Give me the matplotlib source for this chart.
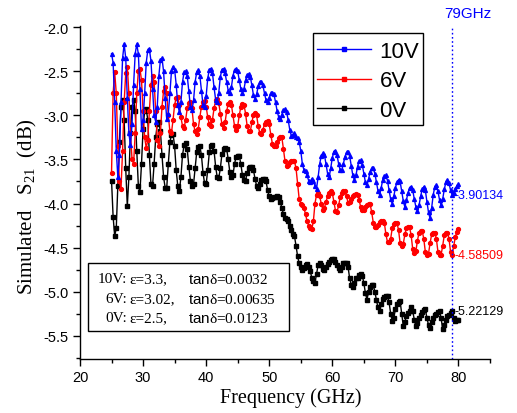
import numpy as np
import matplotlib
matplotlib.use("Agg")
import matplotlib.pyplot as plt
from matplotlib.patches import Rectangle

plt.rcParams["font.family"] = ["Liberation Sans", "DejaVu Sans"]
plt.rcParams["axes.unicode_minus"] = False
plt.rcParams["mathtext.fontset"] = "custom"
plt.rcParams["mathtext.rm"] = "Liberation Serif"
plt.rcParams["mathtext.it"] = "Liberation Serif:italic"
plt.rcParams["mathtext.sf"] = "Liberation Sans"

# Frequency sweep, 25-80 GHz in 0.25 GHz steps
freq = np.arange(25.0, 80.001, 0.25)

# Simulated S21 (dB); each row covers one GHz (x.00, x.25, x.50, x.75)
s21_10v = [
    -2.30, -2.40, -2.85, -3.40,   # 25
    -3.70, -3.45, -2.85, -2.35,   # 26
    -2.19, -2.35, -2.80, -3.20,   # 27
    -3.34, -3.10, -2.65, -2.30,   # 28
    -2.19, -2.30, -2.70, -3.15,   # 29
    -3.05, -2.75, -2.40, -2.26,   # 30
    -2.25, -2.38, -2.70, -3.00,   # 31
    -3.07, -2.90, -2.55, -2.37,   # 32
    -2.35, -2.50, -2.80, -3.04,   # 33
    -2.98, -2.75, -2.50, -2.45,   # 34
    -2.48, -2.65, -2.88, -2.96,   # 35
    -2.85, -2.62, -2.51, -2.50,   # 36
    -2.55, -2.72, -2.90, -2.94,   # 37
    -2.83, -2.62, -2.51, -2.49,   # 38
    -2.55, -2.72, -2.88, -2.90,   # 39
    -2.78, -2.58, -2.48, -2.47,   # 40
    -2.52, -2.68, -2.82, -2.85,   # 41
    -2.74, -2.56, -2.48, -2.47,   # 42
    -2.52, -2.62, -2.72, -2.74,   # 43
    -2.68, -2.55, -2.48, -2.47,   # 44
    -2.50, -2.60, -2.70, -2.74,   # 45
    -2.70, -2.60, -2.54, -2.53,   # 46
    -2.56, -2.66, -2.77, -2.81,   # 47
    -2.76, -2.67, -2.62, -2.62,   # 48
    -2.66, -2.75, -2.83, -2.85,   # 49
    -2.80, -2.75, -2.74, -2.76,   # 50
    -2.85, -2.95, -3.02, -3.04,   # 51
    -2.99, -2.94, -2.93, -2.96,   # 52
    -3.05, -3.16, -3.23, -3.22,   # 53
    -3.20, -3.24, -3.26, -3.30,   # 54
    -3.40, -3.55, -3.62, -3.63,   # 55
    -3.68, -3.74, -3.76, -3.72,   # 56
    -3.75, -3.80, -3.83, -3.70,   # 57
    -3.55, -3.46, -3.43, -3.45,   # 58
    -3.55, -3.66, -3.70, -3.60,   # 59
    -3.48, -3.41, -3.40, -3.45,   # 60
    -3.55, -3.62, -3.62, -3.55,   # 61
    -3.47, -3.42, -3.41, -3.46,   # 62
    -3.57, -3.68, -3.73, -3.68,   # 63
    -3.58, -3.52, -3.51, -3.56,   # 64
    -3.66, -3.76, -3.79, -3.72,   # 65
    -3.64, -3.60, -3.60, -3.66,   # 66
    -3.76, -3.86, -3.90, -3.82,   # 67
    -3.73, -3.69, -3.68, -3.74,   # 68
    -3.85, -3.95, -4.00, -3.92,   # 69
    -3.82, -3.76, -3.73, -3.75,   # 70
    -3.86, -3.97, -4.04, -3.96,   # 71
    -3.88, -3.82, -3.81, -3.85,   # 72
    -3.95, -4.04, -4.09, -4.02,   # 73
    -3.92, -3.84, -3.81, -3.85,   # 74
    -3.98, -4.10, -4.17, -4.05,   # 75
    -3.90, -3.81, -3.79, -3.86,   # 76
    -3.96, -4.02, -3.95, -3.84,   # 77
    -3.76, -3.73, -3.77, -3.85,   # 78
    -3.90134, -3.88, -3.83, -3.80,  # 79
    -3.78,                        # 80
]

s21_6v = [
    -3.65, -2.75, -2.51, -2.75,   # 25
    -3.35, -3.75, -3.83, -3.40,   # 26
    -2.85, -2.52, -2.45, -2.75,   # 27
    -3.20, -3.50, -3.55, -3.20,   # 28
    -2.75, -2.50, -2.47, -2.60,   # 29
    -2.95, -3.25, -3.37, -3.28,   # 30
    -2.95, -2.65, -2.55, -2.62,   # 31
    -2.95, -3.28, -3.35, -3.20,   # 32
    -2.90, -2.72, -2.68, -2.75,   # 33
    -3.00, -3.18, -3.20, -3.05,   # 34
    -2.88, -2.80, -2.79, -2.88,   # 35
    -3.02, -3.12, -3.14, -3.05,   # 36
    -2.92, -2.86, -2.85, -2.92,   # 37
    -3.10, -3.18, -3.21, -3.15,   # 38
    -3.02, -2.90, -2.85, -2.84,   # 39
    -2.90, -3.02, -3.10, -3.12,   # 40
    -3.05, -2.92, -2.83, -2.81,   # 41
    -2.86, -2.98, -3.10, -3.14,   # 42
    -3.08, -2.95, -2.87, -2.85,   # 43
    -2.88, -3.00, -3.12, -3.16,   # 44
    -3.12, -3.00, -2.90, -2.87,   # 45
    -2.88, -2.98, -3.12, -3.18,   # 46
    -3.18, -3.08, -2.99, -2.97,   # 47
    -3.00, -3.12, -3.20, -3.21,   # 48
    -3.16, -3.10, -3.07, -3.06,   # 49
    -3.10, -3.22, -3.32, -3.35,   # 50
    -3.35, -3.30, -3.26, -3.25,   # 51
    -3.25, -3.38, -3.52, -3.57,   # 52
    -3.56, -3.53, -3.52, -3.52,   # 53
    -3.52, -3.60, -3.78, -3.95,   # 54
    -4.00, -4.02, -4.05, -4.12,   # 55
    -4.20, -4.25, -4.28, -4.29,   # 56
    -4.20, -4.00, -3.90, -3.88,   # 57
    -3.92, -4.00, -4.07, -4.05,   # 58
    -3.98, -3.92, -3.88, -3.86,   # 59
    -3.88, -3.98, -4.08, -4.10,   # 60
    -4.02, -3.93, -3.88, -3.86,   # 61
    -3.86, -3.92, -3.99, -3.98,   # 62
    -3.95, -3.92, -3.90, -3.89,   # 63
    -3.90, -3.96, -4.04, -4.07,   # 64
    -4.07, -4.04, -4.02, -4.01,   # 65
    -4.01, -4.10, -4.22, -4.27,   # 66
    -4.27, -4.24, -4.21, -4.20,   # 67
    -4.20, -4.22, -4.35, -4.44,   # 68
    -4.44, -4.40, -4.28, -4.23,   # 69
    -4.22, -4.22, -4.30, -4.45,   # 70
    -4.48, -4.46, -4.35, -4.28,   # 71
    -4.27, -4.27, -4.36, -4.52,   # 72
    -4.56, -4.54, -4.42, -4.33,   # 73
    -4.31, -4.31, -4.40, -4.55,   # 74
    -4.58, -4.57, -4.45, -4.35,   # 75
    -4.33, -4.33, -4.40, -4.55,   # 76
    -4.58, -4.58, -4.48, -4.36,   # 77
    -4.33, -4.33, -4.40, -4.55,   # 78
    -4.58509, -4.48, -4.38, -4.32,  # 79
    -4.29,                        # 80
]

s21_0v = [
    -3.74, -4.15, -4.37, -4.28,   # 25
    -3.80, -3.30, -2.90, -2.82,   # 26
    -3.05, -3.60, -4.03, -3.70,   # 27
    -3.20, -2.90, -2.82, -2.95,   # 28
    -3.40, -3.80, -3.87, -3.55,   # 29
    -3.15, -2.95, -2.93, -3.05,   # 30
    -3.45, -3.78, -3.80, -3.55,   # 31
    -3.25, -3.10, -3.08, -3.18,   # 32
    -3.45, -3.70, -3.82, -3.82,   # 33
    -3.55, -3.30, -3.22, -3.21,   # 34
    -3.35, -3.62, -3.80, -3.86,   # 35
    -3.70, -3.45, -3.34, -3.31,   # 36
    -3.38, -3.58, -3.74, -3.80,   # 37
    -3.78, -3.60, -3.42, -3.36,   # 38
    -3.35, -3.45, -3.65, -3.77,   # 39
    -3.78, -3.62, -3.42, -3.35,   # 40
    -3.34, -3.40, -3.58, -3.70,   # 41
    -3.71, -3.60, -3.44, -3.38,   # 42
    -3.37, -3.38, -3.50, -3.64,   # 43
    -3.70, -3.68, -3.55, -3.47,   # 44
    -3.46, -3.46, -3.55, -3.68,   # 45
    -3.73, -3.74, -3.65, -3.60,   # 46
    -3.59, -3.59, -3.62, -3.72,   # 47
    -3.80, -3.82, -3.78, -3.73,   # 48
    -3.72, -3.72, -3.75, -3.85,   # 49
    -3.92, -3.95, -3.94, -3.93,   # 50
    -3.93, -3.92, -3.93, -3.98,   # 51
    -4.05, -4.12, -4.17, -4.18,   # 52
    -4.20, -4.25, -4.30, -4.35,   # 53
    -4.37, -4.48, -4.60, -4.68,   # 54
    -4.72, -4.75, -4.73, -4.70,   # 55
    -4.69, -4.72, -4.77, -4.84,   # 56
    -4.88, -4.90, -4.80, -4.70,   # 57
    -4.67, -4.70, -4.74, -4.75,   # 58
    -4.72, -4.69, -4.66, -4.64,   # 59
    -4.63, -4.63, -4.66, -4.70,   # 60
    -4.73, -4.75, -4.72, -4.68,   # 61
    -4.68, -4.67, -4.72, -4.85,   # 62
    -4.92, -4.95, -4.90, -4.84,   # 63
    -4.84, -4.81, -4.80, -4.82,   # 64
    -4.90, -5.02, -5.09, -5.00,   # 65
    -4.95, -4.92, -4.93, -5.00,   # 66
    -5.10, -5.18, -5.22, -5.14,   # 67
    -5.08, -5.06, -5.05, -5.05,   # 68
    -5.12, -5.25, -5.33, -5.30,   # 69
    -5.20, -5.14, -5.12, -5.11,   # 70
    -5.25, -5.39, -5.34, -5.28,   # 71
    -5.24, -5.22, -5.18, -5.22,   # 72
    -5.32, -5.39, -5.36, -5.30,   # 73
    -5.26, -5.23, -5.21, -5.20,   # 74
    -5.30, -5.38, -5.41, -5.35,   # 75
    -5.30, -5.27, -5.25, -5.23,   # 76
    -5.22, -5.30, -5.43, -5.38,   # 77
    -5.32, -5.28, -5.26, -5.24,   # 78
    -5.22129, -5.30, -5.33, -5.32,  # 79
    -5.32,                        # 80
]

series_labels = ["10V", "6V", "0V"]
series_colors = ["#0000ff", "#ff0000", "#000000"]
series_markers = ["^", "o", "s"]

marker_freq = 79.0  # GHz, operating frequency marker

# Material parameters per bias voltage
param_volts = ["10V:", "6V:", "0V:"]
param_eps = ["\u03b5=3.3,", "\u03b5=3.02,", "\u03b5=2.5,"]
param_tan = ["$\\mathsf{tan}$\u03b4=0.0032", "$\\mathsf{tan}$\u03b4=0.00635",
             "$\\mathsf{tan}$\u03b4=0.0123"]

W, H = 517, 414
fig = plt.figure(figsize=(W / 100, H / 100), dpi=100)
ax = fig.add_axes([80 / W, 1 - 360 / H, 410 / W, 333 / H])

series = [s21_10v, s21_6v, s21_0v]
handles = [None] * 3
for i in (2, 1, 0):
    (ln,) = ax.plot(freq, series[i], color=series_colors[i], lw=1.0,
                    marker=series_markers[i], ms=2.8, mec=series_colors[i],
                    mfc=series_colors[i], label=series_labels[i])
    handles[i] = ln

ax.set_xlim(20, 85)
ax.set_ylim(-5.765, -1.985)
ax.set_xticks(np.arange(20, 81, 10))
ax.set_xticks(np.arange(25, 86, 10), minor=True)
ax.set_yticks(np.arange(-5.5, -1.99, 0.5))
ax.set_yticks(np.arange(-5.75, -1.99, 0.25), minor=True)
ax.yaxis.set_major_formatter(matplotlib.ticker.FormatStrFormatter("%.1f"))
for sp in ("top", "right"):
    ax.spines[sp].set_visible(False)
for sp in ("left", "bottom"):
    ax.spines[sp].set_linewidth(1.0)
ax.tick_params(which="major", direction="out", length=5, width=1.0,
               labelsize=10.5, pad=3)
ax.tick_params(which="minor", direction="out", length=3, width=1.0)

ax.set_xlabel("Frequency (GHz)", family="Liberation Serif", fontsize=14.5)
ax.xaxis.set_label_coords(0.514, -0.086)
ax.set_ylabel("Simulated   S$_{\\mathrm{21}}$  (dB)", family="Liberation Serif",
              fontsize=15)
ax.yaxis.set_label_coords(-0.100, 0.46)

# Vertical marker at the operating frequency
ax.axvline(marker_freq, color="#0000ff", ls=(0, (1.2, 1.8)), lw=1.0)
ax.text(77.7, -1.84, "79GHz", color="#0000ff", fontsize=11,
        ha="left", va="center", clip_on=False)

# Values at the operating frequency
idx = int(np.argmin(np.abs(freq - marker_freq)))
for i in range(3):
    v = series[i][idx]
    ax.text(marker_freq + 0.45, v, f"{v:.5f}", color=series_colors[i],
            fontsize=9, ha="left", va="center", clip_on=False)

# Legend with a separately drawn square frame
leg = ax.legend(handles=handles, labels=series_labels, loc="upper left",
                bbox_to_anchor=(317 / W, 1 - 42 / H),
                bbox_transform=fig.transFigure, borderaxespad=0,
                fontsize=16, numpoints=1, handlelength=2.45,
                handletextpad=0.36, labelspacing=0.38, borderpad=0.0,
                frameon=False)
for lh in leg.legend_handles:
    lh.set_marker("s")
    lh.set_markersize(2.5)
leg.set_zorder(7)
ax.add_patch(Rectangle((313 / W, 1 - 126 / H), 110 / W, 92 / H,
                       transform=fig.transFigure, fill=True, fc="white",
                       ec="black", lw=1.0, zorder=6, clip_on=False))

# Parameter box
ax.add_patch(Rectangle((21.27, -5.451), 53.14 - 21.27, 5.451 - 4.679,
                       fill=False, ec="black", lw=1.0, zorder=5))
row_y = [-4.855, -5.082, -5.298]
for k in range(3):
    ax.text(27.45, row_y[k], param_volts[k], family="Liberation Serif",
            fontsize=11, ha="right", va="center", zorder=6)
    ax.text(27.8, row_y[k], param_eps[k], family="Liberation Serif",
            fontsize=11, ha="left", va="center", zorder=6)
    ax.text(37.18, row_y[k], param_tan[k], family="Liberation Serif",
            fontsize=11, ha="left", va="center", zorder=6)

fig.savefig("out.png", dpi=100)
